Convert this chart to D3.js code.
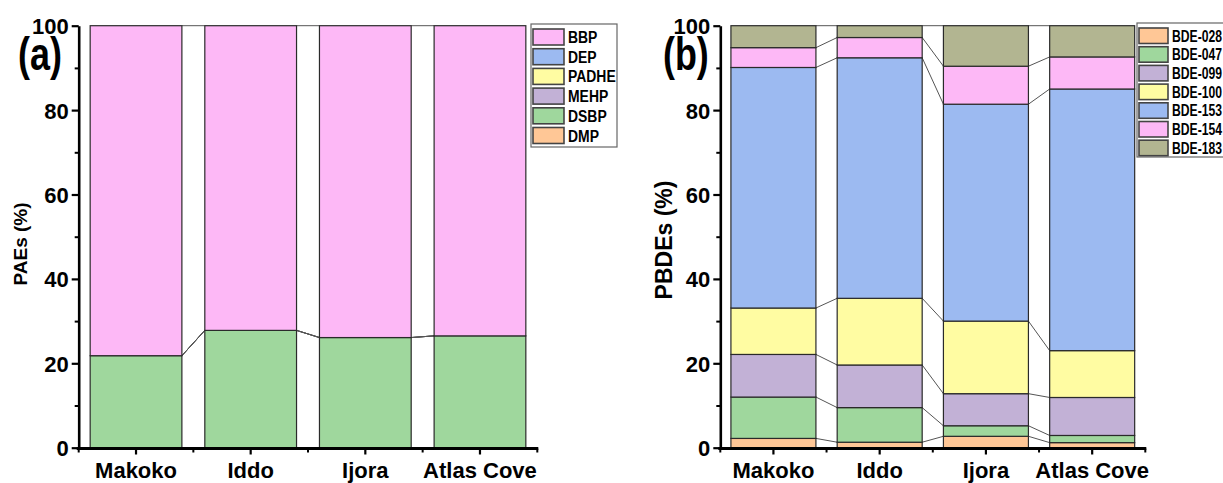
<!DOCTYPE html>
<html>
<head>
<meta charset="utf-8">
<script src="https://cdn.jsdelivr.net/npm/d3@7"></script>
<style>
  html, body { margin: 0; padding: 0; background: #fff; }
  svg { display: block; }
  text { font-family: "Liberation Sans", Arial, sans-serif; font-weight: bold; fill: #000; }
</style>
</head>
<body>
<svg id="chart" width="1223" height="483"></svg>
<script>
// Sampling sites (shared by both panels)
const sites = ["Makoko", "Iddo", "Ijora", "Atlas Cove"];

// Panel (a): phthalate esters, % composition per site
const paeKeys = ["DMP", "DSBP", "MEHP", "PADHE", "DEP", "BBP"];
const paeDMP   = [0, 0, 0, 0];
const paeDSBP  = [21.8, 27.8, 26.1, 26.5];
const paeMEHP  = [0, 0, 0, 0];
const paePADHE = [0, 0, 0, 0];
const paeDEP   = [0, 0, 0, 0];
const paeBBP   = [78.2, 72.2, 73.9, 73.5];
const paeLegendOrder = ["BBP", "DEP", "PADHE", "MEHP", "DSBP", "DMP"];

// Panel (b): PBDE congeners, % composition per site
const pbdeKeys = ["BDE-028", "BDE-047", "BDE-099", "BDE-100", "BDE-153", "BDE-154", "BDE-183"];
const bde028 = [2.2, 1.3, 2.7, 1.2];
const bde047 = [9.8, 8.2, 2.5, 1.7];
const bde099 = [10.1, 10.1, 7.6, 9.0];
const bde100 = [11.0, 15.8, 17.2, 11.1];
const bde153 = [57.0, 57.0, 51.4, 62.0];
const bde154 = [4.7, 4.8, 9.0, 7.6];
const bde183 = [5.2, 2.8, 9.6, 7.4];

// Percent axis ticks
const majorTicks = [0, 20, 40, 60, 80, 100];
const minorTicks = [10, 30, 50, 70, 90];

const colors = {
  "BBP": "#fdb8f6", "DEP": "#9cbaf1", "PADHE": "#fffca2", "MEHP": "#c2b1d6",
  "DSBP": "#9fd79d", "DMP": "#ffc796",
  "BDE-028": "#ffc796", "BDE-047": "#9fd79d", "BDE-099": "#c2b1d6", "BDE-100": "#fffca2",
  "BDE-153": "#9cbaf1", "BDE-154": "#fdb8f6", "BDE-183": "#b2b591"
};

function buildRows(keys, arrays) {
  return sites.map((s, i) => {
    const r = { site: s };
    keys.forEach((k, j) => { r[k] = arrays[j][i]; });
    return r;
  });
}

const paeRows = buildRows(paeKeys, [paeDMP, paeDSBP, paeMEHP, paePADHE, paeDEP, paeBBP]);
const pbdeRows = buildRows(pbdeKeys, [bde028, bde047, bde099, bde100, bde153, bde154, bde183]);

const svg = d3.select("#chart");

function drawPanel(opts) {
  const g = svg.append("g");
  const x = d3.scaleBand().domain(sites).range(opts.xRange).paddingInner(0.2).paddingOuter(0.1);
  const y = d3.scaleLinear().domain([0, 100]).range([447.7, 25.7]);
  const series = d3.stack().keys(opts.keys)(opts.rows);
  const bw = x.bandwidth();

  // connector lines between adjacent stacks
  const conn = g.append("g");
  series.forEach(layer => {
    for (let i = 0; i < layer.length - 1; i++) {
      conn.append("line")
        .attr("x1", x(sites[i]) + bw).attr("y1", y(layer[i][1]))
        .attr("x2", x(sites[i + 1])).attr("y2", y(layer[i + 1][1]))
        .attr("stroke", "#555").attr("stroke-width", 1);
    }
  });

  // stacked bars
  g.append("g").selectAll("g").data(series).join("g")
    .attr("fill", d => colors[d.key])
    .selectAll("rect").data(d => d).join("rect")
    .attr("x", d => x(d.data.site))
    .attr("width", bw)
    .attr("y", d => y(d[1]))
    .attr("height", d => y(d[0]) - y(d[1]))
    .attr("stroke", "#2a2a2a").attr("stroke-width", 1.2);

  // y axis: major + minor ticks
  const yAxisX = opts.xRange[0];
  const ya = g.append("g").attr("transform", `translate(${yAxisX},0)`)
    .call(d3.axisLeft(y).tickValues(majorTicks).tickSize(7).tickSizeOuter(0).tickPadding(3));
  ya.select(".domain").attr("stroke", "#000").attr("stroke-width", 2.6);
  ya.selectAll(".tick line").attr("stroke", "#000").attr("stroke-width", 2.2);
  ya.selectAll(".tick text").style("font-size", "22px").style("font-family", "'Liberation Sans', Arial, sans-serif").style("font-weight", "bold").attr("dy", "0.36em");
  const ym = g.append("g").attr("transform", `translate(${yAxisX},0)`)
    .call(d3.axisLeft(y).tickValues(minorTicks).tickSize(4).tickSizeOuter(0).tickFormat(""));
  ym.select(".domain").remove();
  ym.selectAll(".tick line").attr("stroke", "#000").attr("stroke-width", 2);

  // x axis
  const xa = g.append("g").attr("transform", "translate(0,448.5)")
    .call(d3.axisBottom(x).tickSize(6).tickSizeOuter(0).tickPadding(8));
  xa.select(".domain").attr("stroke", "#000").attr("stroke-width", 2.8)
    .attr("d", `M${opts.xRange[0] - 2},0H${opts.xRange[1] + 1}`);
  xa.selectAll(".tick line").attr("stroke", "#000").attr("stroke-width", 2.2);
  xa.selectAll(".tick text").style("font-size", "22px").style("font-family", "'Liberation Sans', Arial, sans-serif").style("font-weight", "bold");
  // minor ticks at category boundaries
  const step = x.step();
  const bounds = sites.map(s => x(s) + bw / 2 + step / 2);
  bounds.unshift(x(sites[0]) + bw / 2 - step / 2);
  xa.append("g").selectAll("line").data(bounds).join("line")
    .attr("x1", d => d).attr("x2", d => d).attr("y1", 0).attr("y2", 4)
    .attr("stroke", "#000").attr("stroke-width", 2);

  // y axis title
  g.append("text")
    .attr("transform", `translate(${opts.titleX},${opts.titleY}) rotate(-90)`)
    .attr("text-anchor", "middle")
    .style("font-size", opts.titleSize + "px")
    .text(opts.yTitle);

  // panel letter
  g.append("text")
    .attr("transform", `translate(${opts.letterX},70) scale(0.78,1)`)
    .style("font-size", "46px")
    .text(opts.letter);

  // legend
  const L = opts.legend;
  const lg = g.append("g");
  lg.append("rect").attr("x", L.x).attr("y", L.y).attr("width", L.w).attr("height", L.h)
    .attr("fill", "#fff").attr("stroke", "#666").attr("stroke-width", 1.2);
  const items = lg.selectAll("g.item").data(L.order).join("g")
    .attr("transform", (d, i) => `translate(${L.x + 2},${L.y + L.top + i * L.step})`);
  items.append("rect").attr("width", L.sw).attr("height", L.sh)
    .attr("fill", d => colors[d]).attr("stroke", "#444").attr("stroke-width", 1.6);
  items.append("text")
    .attr("transform", `translate(${L.sw + 4},${L.sh - 2}) scale(${L.sx},1)`)
    .style("font-size", L.fs + "px")
    .text(d => d);
}

drawPanel({
  rows: paeRows, keys: paeKeys, xRange: [78.7, 537.3],
  yTitle: "PAEs (%)", titleX: 27, titleY: 244, titleSize: 19, letter: "(a)", letterX: 18,
  legend: { x: 531, y: 24, w: 86, h: 123, top: 5, step: 19.7, sw: 31, sh: 16, fs: 17, sx: 0.82, order: paeLegendOrder }
});

drawPanel({
  rows: pbdeRows, keys: pbdeKeys, xRange: [720.3, 1145.3],
  yTitle: "PBDEs (%)", titleX: 672, titleY: 240, titleSize: 23, letter: "(b)", letterX: 663,
  legend: { x: 1137, y: 23, w: 95, h: 134, top: 5, step: 18.7, sw: 29, sh: 15.5, fs: 16, sx: 0.76, order: pbdeKeys }
});
</script>
</body>
</html>
